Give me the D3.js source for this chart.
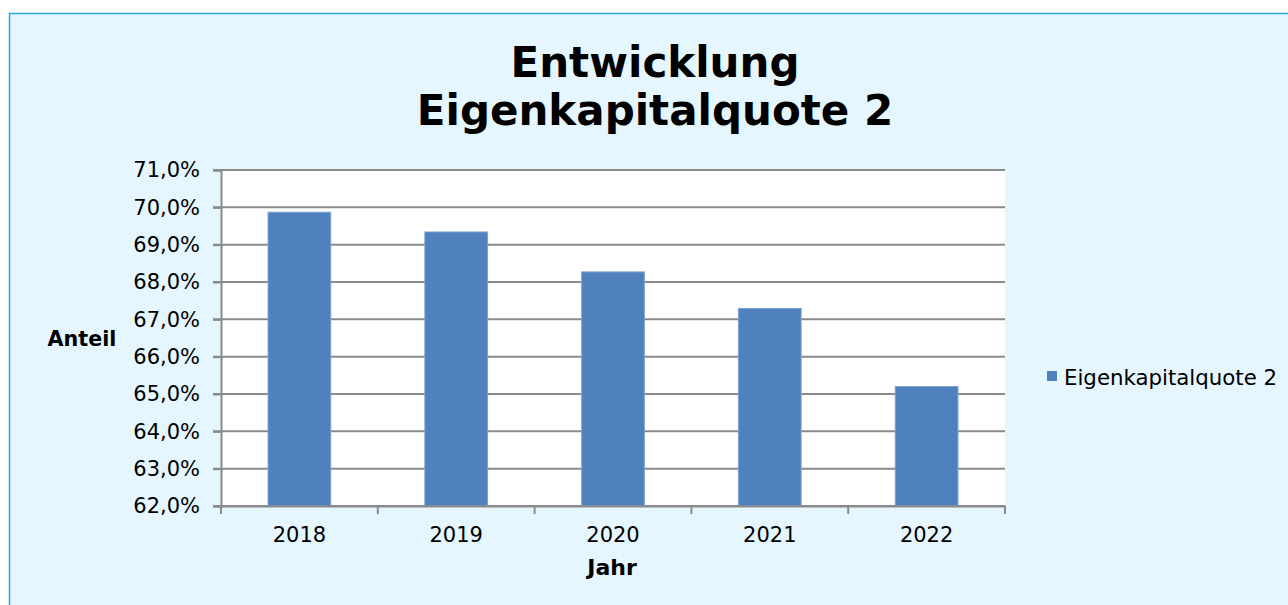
<!DOCTYPE html>
<html>
<head>
<meta charset="utf-8">
<script src="https://cdn.jsdelivr.net/npm/d3@7"></script>
<style>
  body { margin: 0; background: #ffffff; }
  svg text { font-family: "DejaVu Sans", Verdana, sans-serif; fill: #000; }
</style>
</head>
<body>
<svg id="chart" width="1288" height="605"></svg>
<script>
// chart data
const years = ['2018', '2019', '2020', '2021', '2022'];
const quote = [69.87, 69.34, 68.27, 67.29, 65.20];
const yTicks = [62, 63, 64, 65, 66, 67, 68, 69, 70, 71];
const titleLines = ['Entwicklung', 'Eigenkapitalquote 2'];
const seriesName = 'Eigenkapitalquote 2';

const svg = d3.select('#chart');

// outer chart area
svg.append('rect')
   .attr('x', 9.5).attr('y', 13.5)
   .attr('width', 1300).attr('height', 620)
   .attr('fill', '#e5f6fe')
   .attr('stroke', '#2fa6dc').attr('stroke-width', 1.5);

const plot = {left: 221, top: 170, right: 1005, bottom: 506};

const x = d3.scaleBand()
            .domain(years)
            .range([plot.left, plot.right])
            .paddingInner(0.6)
            .paddingOuter(0.3);

const y = d3.scaleLinear()
            .domain([62, 71])
            .range([plot.bottom, plot.top]);

svg.append('rect')
   .attr('x', plot.left).attr('y', plot.top)
   .attr('width', plot.right - plot.left).attr('height', plot.bottom - plot.top)
   .attr('fill', '#ffffff');

// gridlines
svg.append('g')
   .selectAll('line')
   .data(yTicks)
   .join('line')
     .attr('x1', plot.left - 8).attr('x2', plot.right)
     .attr('y1', d => y(d)).attr('y2', d => y(d))
     .attr('stroke', '#8a8a8a').attr('stroke-width', 2);

// bars
svg.append('g')
   .selectAll('rect')
   .data(years)
   .join('rect')
     .attr('x', d => x(d))
     .attr('y', (d, i) => y(quote[i]))
     .attr('width', x.bandwidth())
     .attr('height', (d, i) => plot.bottom - y(quote[i]))
     .attr('fill', '#4f81bd')
     .attr('stroke', '#7ea3d2').attr('stroke-width', 1);

// y axis
const yAxis = svg.append('g')
   .attr('transform', `translate(${plot.left},0)`)
   .call(d3.axisLeft(y).tickValues(yTicks).tickSize(8).tickPadding(13)
           .tickFormat(d => d3.format('.1f')(d).replace('.', ',') + '%'));
yAxis.select('.domain').attr('stroke', '#8a8a8a').attr('stroke-width', 2);
yAxis.selectAll('.tick line').attr('stroke', '#8a8a8a').attr('stroke-width', 2);
yAxis.selectAll('.tick text').style('font-size', '21px').attr('fill', '#000');

// x axis with ticks between categories
const xAxis = svg.append('g')
   .attr('transform', `translate(0,${plot.bottom})`)
   .call(d3.axisBottom(x).tickSize(0).tickPadding(21));
xAxis.select('.domain').attr('stroke', '#8a8a8a').attr('stroke-width', 2);
xAxis.selectAll('.tick text').style('font-size', '21px').attr('fill', '#000');

const bounds = years.map(d => x(d) - x.step() * x.paddingInner() / 2);
bounds.push(plot.right);
bounds[0] = plot.left;
xAxis.selectAll('.sep')
     .data(bounds)
     .join('line')
       .attr('class', 'sep')
       .attr('x1', d => d).attr('x2', d => d)
       .attr('y1', 0).attr('y2', 8)
       .attr('stroke', '#8a8a8a').attr('stroke-width', 2);

// title
svg.append('text')
   .attr('x', 655).attr('text-anchor', 'middle')
   .style('font-size', '42px').style('font-weight', 'bold')
   .selectAll('tspan')
   .data(titleLines)
   .join('tspan')
     .attr('x', 655)
     .attr('y', (d, i) => 77 + i * 48)
     .text(d => d);

// axis titles
svg.append('text')
   .attr('x', 82).attr('y', 346).attr('text-anchor', 'middle')
   .style('font-size', '20.7px').style('font-weight', 'bold')
   .text('Anteil');

svg.append('text')
   .attr('x', 612).attr('y', 575).attr('text-anchor', 'middle')
   .style('font-size', '22px').style('font-weight', 'bold')
   .text('Jahr');

// legend
const legend = svg.append('g').attr('transform', 'translate(1047,371)');
legend.append('rect')
      .attr('width', 10).attr('height', 10)
      .attr('fill', '#4f81bd');
legend.append('text')
      .attr('x', 17).attr('y', 14)
      .style('font-size', '21.3px')
      .text(seriesName);
</script>
</body>
</html>
